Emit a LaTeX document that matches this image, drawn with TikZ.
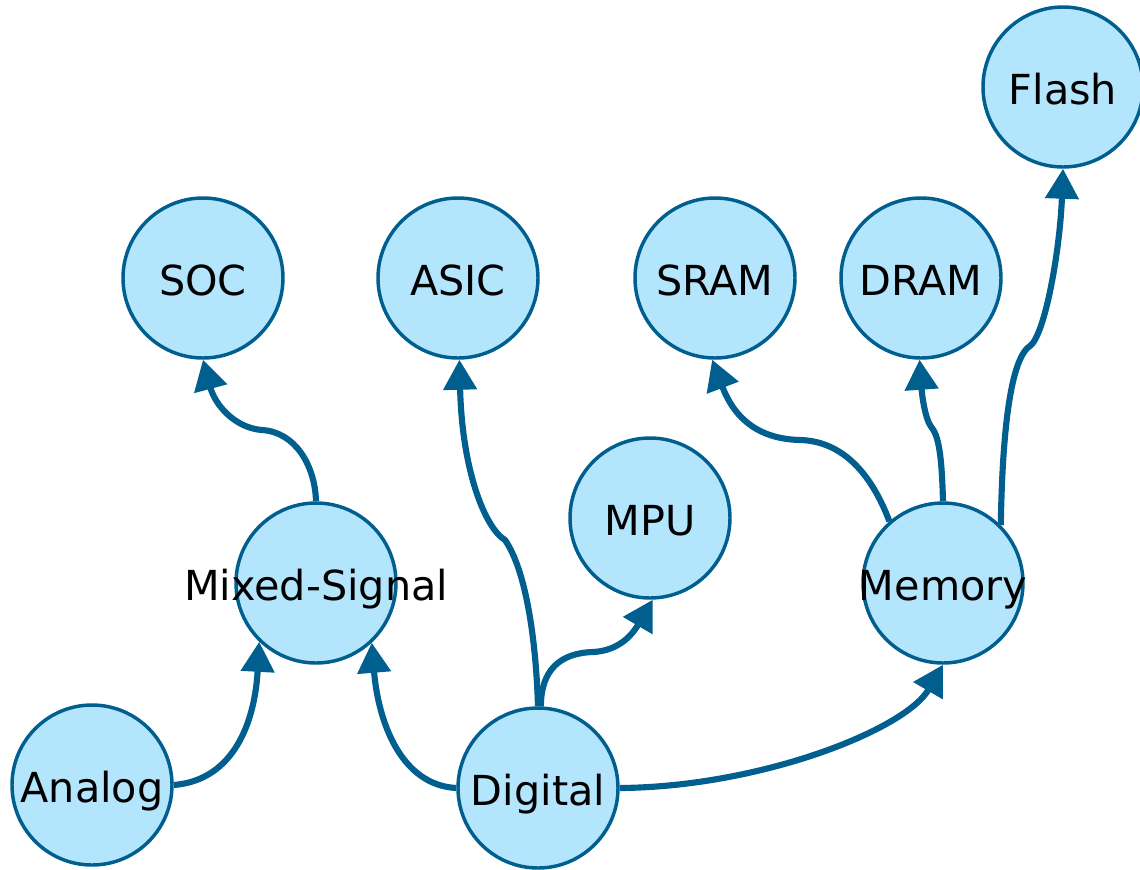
\documentclass[tikz,border=0pt]{standalone}
\usepackage{fontspec}
\setmainfont{DejaVu Sans}
\usetikzlibrary{arrows.meta}
\definecolor{nodefill}{HTML}{B3E5FC}
\definecolor{edgeblue}{HTML}{005F8F}
\newcommand\ctx[1]{\makebox[0pt]{\raisebox{-12.8pt}[0pt][0pt]{#1}}}
\tikzset{
  vnode/.style={circle, draw=edgeblue, line width=2.6pt, fill=nodefill,
    minimum size=120pt, inner sep=0pt, font=\fontsize{31}{36}\selectfont},
  conn/.style={draw=edgeblue, line width=4.6pt,
    -{Triangle[length=22.5pt,width=24.5pt]}}
}
\begin{document}
\begin{tikzpicture}[x=0.75pt,y=-0.75pt]
\useasboundingbox (0,0) rectangle (1140,869);
\node[vnode] (soc) at (203,278) {\ctx{SOC}};
\node[vnode] (asic) at (458,278) {\ctx{ASIC}};
\node[vnode] (sram) at (715,278) {\ctx{SRAM}};
\node[vnode] (dram) at (921,278) {\ctx{DRAM}};
\node[vnode] (flash) at (1063,87) {\ctx{Flash}};
\node[vnode] (mpu) at (650,518) {\ctx{MPU}};
\node[vnode] (ms) at (316,583) {\ctx{Mixed-Signal}};
\node[vnode] (mem) at (943,583) {\ctx{Memory}};
\node[vnode] (analog) at (92,785) {\ctx{Analog}};
\node[vnode] (digital) at (538,788) {\ctx{Digital}};

\draw[conn] (analog.east) .. controls (235,780) and (255,720) .. (ms.-134);
\draw[conn] (digital.west) .. controls (400,785) and (378,720) .. (ms.-47);
\draw[conn] (digital.north) .. controls (536,640) and (526,570) .. (505,540)
  .. controls (485,528) and (462,470) .. (asic.-89);
\draw[conn] (digital.88) .. controls (541,670) and (560,653) .. (593,652)
  .. controls (612,651) and (628,642) .. (mpu.-88);
\draw[conn] (digital.east) .. controls (760,787) and (905,730) .. (mem.-90);
\draw[conn] (ms.north) .. controls (315,465) and (295,432) .. (262,430)
  .. controls (235,428) and (215,405) .. (soc.-90);
\draw[conn] (mem.131) .. controls (870,470) and (840,441) .. (800,440)
  .. controls (760,439) and (735,420) .. (sram.-92);
\draw[conn] (mem.north) .. controls (942,465) and (940,438) .. (932,428)
  .. controls (925,420) and (922,395) .. (dram.-91);
\draw[conn] (mem.45) .. controls (1002,450) and (1008,360) .. (1030,346)
  .. controls (1045,335) and (1060,250) .. (flash.-90);
\end{tikzpicture}
\end{document}
